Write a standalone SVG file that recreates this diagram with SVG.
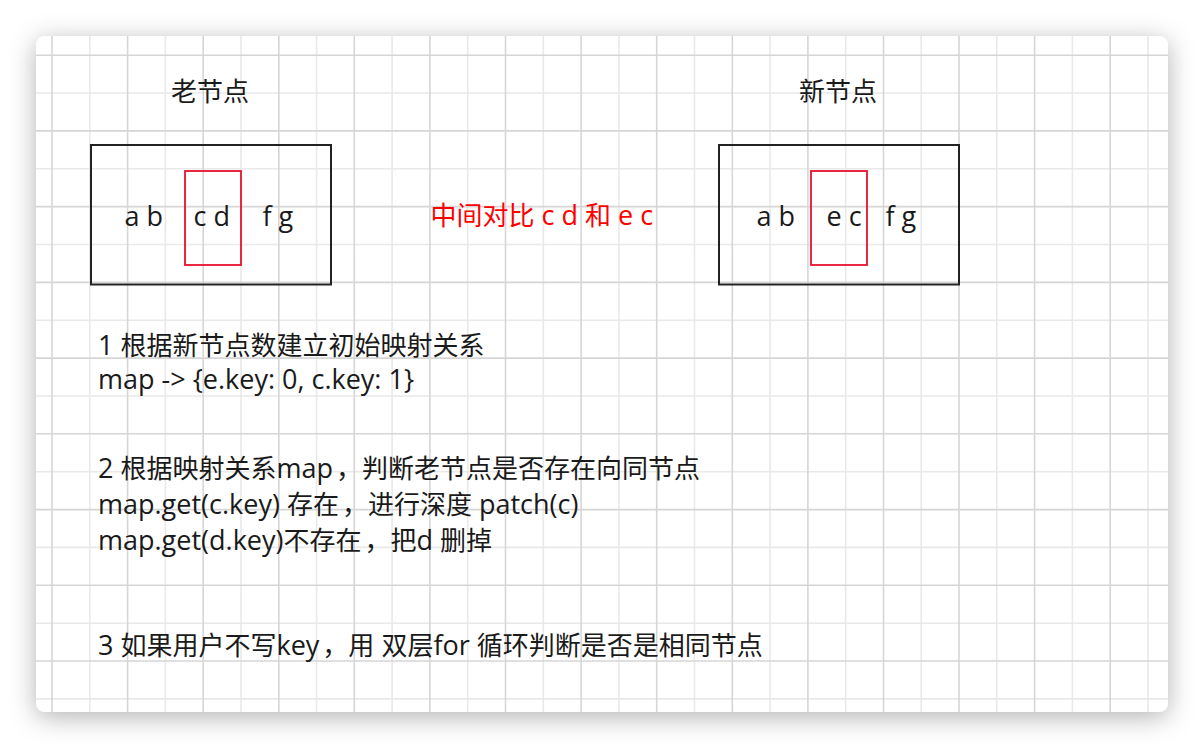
<svg xmlns="http://www.w3.org/2000/svg" width="1204" height="748" viewBox="0 0 1204 748">
<defs>
<filter id="sh" x="-10%" y="-10%" width="120%" height="125%">
<feDropShadow dx="0" dy="5" stdDeviation="13" flood-color="#000" flood-opacity="0.3"/>
</filter>
<clipPath id="card"><rect x="36" y="36" width="1132" height="676" rx="9"/></clipPath>
<style>
.t{font-family:"Noto Sans CJK SC","Open Sans",sans-serif;font-size:26px;fill:#1a1a1a}
.l{font-family:"Open Sans","Noto Sans CJK SC",sans-serif;font-size:27px}
.r{fill:#ff0000}
.box{fill:none;stroke:#222;stroke-width:2}
.rb{fill:none;stroke:#e8112d;stroke-width:1.8}
.gd{stroke:#d6d6d6;stroke-width:1.6;fill:none}
.gl{stroke:#e9e9e9;stroke-width:1.6;fill:none}
</style>
</defs>
<rect width="1204" height="748" fill="#ffffff"/>
<rect x="36" y="36" width="1132" height="676" rx="9" fill="#fff" filter="url(#sh)"/>
<g clip-path="url(#card)">
<path class="gl" d="M89.8 36V712M165.4 36V712M241 36V712M316.6 36V712M392.1 36V712M467.7 36V712M543.3 36V712M618.9 36V712M694.5 36V712M770.1 36V712M845.7 36V712M921.2 36V712M996.8 36V712M1072.4 36V712M1148 36V712M36 93H1168M36 168.8H1168M36 244.5H1168M36 320.2H1168M36 396H1168M36 471.7H1168M36 547.4H1168M36 623.2H1168M36 698.9H1168"/>
<path class="gd" d="M52 36V712M127.6 36V712M203.2 36V712M278.8 36V712M354.3 36V712M429.9 36V712M505.5 36V712M581.1 36V712M656.7 36V712M732.3 36V712M807.9 36V712M883.5 36V712M959 36V712M1034.6 36V712M1110.2 36V712M36 55.2H1168M36 130.9H1168M36 206.6H1168M36 282.4H1168M36 358.1H1168M36 433.8H1168M36 509.6H1168M36 585.3H1168M36 661H1168"/>
</g>
<g id="old-title"><text class="t" x="171" y="101">老节点</text></g>
<g id="new-title"><text class="t" x="799" y="101">新节点</text></g>
<g id="old-node">
<rect class="box" x="91" y="145" width="240" height="139.5"/>
<rect class="rb" x="185" y="171" width="56" height="94"/>
<text class="t l" x="124.5" y="225.5">a b</text>
<text class="t l" x="193.5" y="225.5">c d</text>
<text class="t l" x="262.5" y="225.5">f g</text>
</g>
<g id="new-node">
<rect class="box" x="719" y="145" width="240" height="139.5"/>
<rect class="rb" x="811" y="171" width="56" height="94"/>
<text class="t l" x="756.5" y="225.5">a b</text>
<text class="t l" x="826.5" y="225.5">e c</text>
<text class="t l" x="885.5" y="225.5">f g</text>
</g>
<g id="compare"><text class="t r" x="430.5" y="225">中间对比<tspan class="l"> c d </tspan>和<tspan class="l"> e c</tspan></text></g>
<g id="connectors"></g>
<g id="step1">
<text class="t" x="98" y="355"><tspan class="l">1 </tspan>根据新节点数建立初始映射关系</text>
<text class="t l" x="98" y="388.5">map -&gt; {e.key: 0, c.key: 1}</text>
</g>
<g id="step2">
<text class="t" x="98" y="478"><tspan class="l">2 </tspan>根据映射关系<tspan class="l">map</tspan><tspan dx="3">，</tspan>判断老节点是否存在向同节点</text>
<text class="t" x="98" y="514"><tspan class="l">map.get(c.key) </tspan>存在<tspan dx="3">，</tspan>进行深度<tspan class="l"> patch(c)</tspan></text>
<text class="t" x="98" y="550"><tspan class="l">map.get(d.key)</tspan>不存在<tspan dx="3">，</tspan>把<tspan class="l">d </tspan>删掉</text>
</g>
<g id="step3">
<text class="t" x="98" y="655"><tspan class="l">3 </tspan>如果用户不写<tspan class="l">key</tspan><tspan dx="3">，</tspan>用<tspan class="l"> </tspan>双层<tspan class="l">for </tspan>循环判断是否是相同节点</text>
</g>
</svg>
